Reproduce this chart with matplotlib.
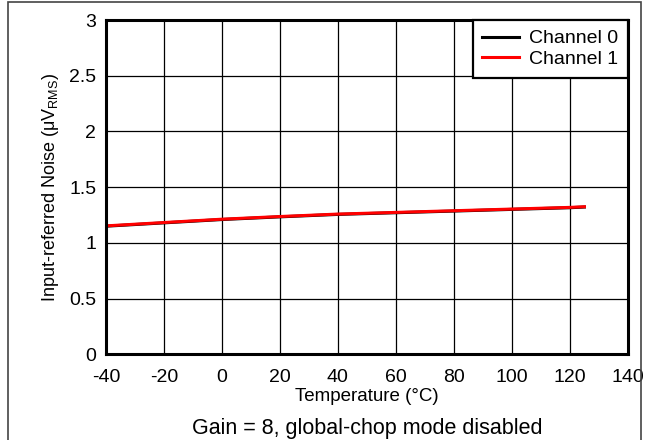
import matplotlib
matplotlib.use("Agg")
import matplotlib.pyplot as plt
from matplotlib.patches import Rectangle

# data
temperature = [-40, -20, 0, 20, 40, 60, 80, 100, 120, 125]
channel0 = [1.149, 1.179, 1.209, 1.233, 1.255, 1.270, 1.285, 1.300, 1.315, 1.321]
channel1 = [1.152, 1.182, 1.212, 1.236, 1.258, 1.273, 1.288, 1.303, 1.318, 1.324]

x_ticks = [-40, -20, 0, 20, 40, 60, 80, 100, 120, 140]
y_ticks = [0, 0.5, 1, 1.5, 2, 2.5, 3]
y_tick_labels = ["0", "0.5", "1", "1.5", "2", "2.5", "3"]

plt.rcParams['font.family'] = ['Liberation Sans', 'DejaVu Sans']
plt.rcParams['axes.unicode_minus'] = False

fig = plt.figure(figsize=(6.46, 4.40), dpi=100)
ax = fig.add_axes([0.164, 0.195, 0.808, 0.7595])

# thin frame around the whole figure
fig.patches.append(Rectangle((8 / 646, -0.1), (641 - 8) / 646, 1.1 - 2 / 440,
                             transform=fig.transFigure, fill=False,
                             edgecolor='#444444', linewidth=1.2))

ax.plot(temperature, channel0, color='black', linewidth=2.2, label='Channel 0')
ax.plot(temperature, channel1, color='#ff0000', linewidth=2.2, label='Channel 1')

ax.set_xlim(-40, 140)
ax.set_ylim(0, 3)
ax.set_xticks(x_ticks)
ax.set_yticks(y_ticks)
ax.set_yticklabels(y_tick_labels)
ax.tick_params(axis='both', length=0, labelsize=14)
ax.tick_params(axis='x', pad=11)
ax.tick_params(axis='y', pad=7)
ax.grid(True, color='black', linewidth=0.9)
ax.set_axisbelow(True)
for s in ax.spines.values():
    s.set_linewidth(2.2)

ax.set_xlabel('Temperature (°C)', fontsize=13.5, labelpad=1)
ax.set_ylabel(r'Input-referred Noise ($\mathregular{\mu V_{RMS}}$)', fontsize=13, labelpad=6)

leg = ax.legend(loc='upper right', fontsize=14, frameon=True, fancybox=False,
                borderaxespad=0, handlelength=1.9, handletextpad=0.5,
                borderpad=0.5, labelspacing=0.15)
leg.get_frame().set_edgecolor('black')
leg.get_frame().set_linewidth(1.6)
leg.get_frame().set_alpha(1)

fig.text(0.568, 0.027, 'Gain = 8, global-chop mode disabled', ha='center', va='center', fontsize=15.5)

fig.savefig('out.png', dpi=100)
